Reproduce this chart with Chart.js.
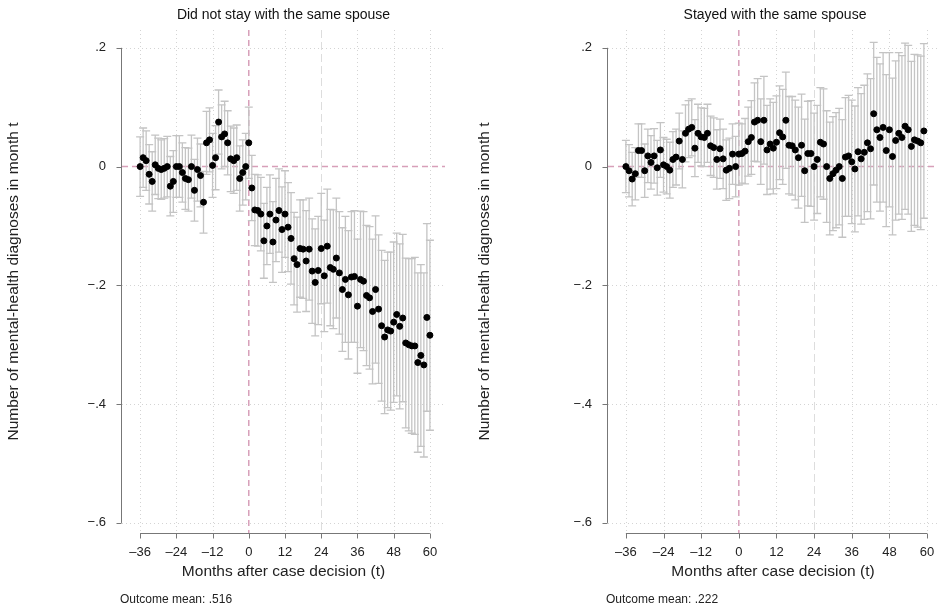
<!DOCTYPE html>
<html><head><meta charset="utf-8">
<script src="https://cdn.jsdelivr.net/npm/chart.js@4"></script>
<style>
body{margin:0;background:#fff;font-family:"Liberation Sans",Arial,sans-serif;}
.c{position:absolute;top:0;height:610px;}
.note{position:absolute;top:592px;font-size:12px;color:#222;}
.t{position:absolute;top:6px;font-size:14px;color:#111;text-align:center;}
</style></head><body>
<div class="c" style="left:0;width:471px"><canvas id="a"></canvas></div>
<div class="c" style="left:471px;width:471px"><canvas id="b"></canvas></div>
<div class="t" style="left:122px;width:323px">Did not stay with the same spouse</div>
<div class="t" style="left:608px;width:334px">Stayed with the same spouse</div>
<div class="note" style="left:120px">Outcome mean: .516</div>
<div class="note" style="left:606px">Outcome mean: .222</div>
<script>
const months=[];for(let m=-36;m<=60;m++)months.push(m);
const xTicks=[-36,-24,-12,0,12,24,36,48,60];
const yTicks=[0.2,0,-0.2,-0.4,-0.6];
const leftEst=[0,0.015,0.01,-0.013,-0.025,0.003,-0.003,-0.005,-0.003,0,-0.033,-0.025,0,0,-0.01,-0.02,-0.022,0,-0.04,-0.005,-0.015,-0.06,0.04,0.045,0.002,0.015,0.075,0.05,0.055,0.04,0.013,0.01,0.015,-0.02,-0.01,0,0.04,
-0.036,-0.073,-0.074,-0.08,-0.125,-0.1,-0.08,-0.127,-0.09,-0.074,-0.106,-0.08,-0.102,-0.121,-0.155,-0.165,-0.138,-0.139,-0.159,-0.139,-0.176,-0.195,-0.175,-0.138,-0.184,-0.134,-0.17,-0.173,-0.154,-0.179,-0.207,-0.19,-0.216,-0.186,-0.185,-0.235,-0.19,-0.193,-0.217,-0.221,-0.244,-0.207,-0.24,-0.268,-0.287,-0.275,-0.277,-0.262,-0.249,-0.269,-0.255,-0.297,-0.3,-0.302,-0.302,-0.33,-0.318,-0.334,-0.254,-0.284];
const leftCI=[0.05,0.05,0.05,0.05,0.05,0.05,0.051,0.05,0.05,0.051,0.05,0.052,0.052,0.052,0.05,0.052,0.053,0.053,0.052,0.053,0.053,0.052,0.053,0.054,0.054,0.054,0.054,0.054,0.055,0.054,0.055,0.055,0.055,0.055,0.055,0.056,0.06,
0.055,0.06,0.06,0.062,0.063,0.065,0.066,0.068,0.07,0.07,0.072,0.073,0.075,0.077,0.078,0.08,0.082,0.083,0.085,0.086,0.088,0.09,0.091,0.093,0.094,0.096,0.098,0.1,0.101,0.103,0.104,0.106,0.108,0.11,0.111,0.113,0.115,0.117,0.118,0.12,0.122,0.124,0.125,0.127,0.129,0.131,0.133,0.135,0.137,0.139,0.141,0.143,0.145,0.147,0.149,0.151,0.153,0.155,0.158,0.16,0.166];
const rightEst=[0,-0.007,-0.021,-0.012,0.027,0.027,-0.007,0.018,0.007,0.018,-0.002,0.028,0.003,0,-0.006,0.012,0.016,0.043,0.012,0.056,0.063,0.066,0.031,0.056,0.05,0.049,0.056,0.035,0.032,0.012,0.03,0.013,-0.006,-0.003,0.021,0,0.021,
0.022,0.026,0.042,0.049,0.075,0.078,0.042,0.078,0.028,0.038,0.031,0.041,0.057,0.05,0.078,0.036,0.035,0.028,0.015,0.036,-0.007,0.022,0.022,0,0.012,0.041,0.038,0,-0.02,-0.012,-0.006,0,-0.02,0.016,0.018,0.008,-0.004,0.025,0.013,0.024,0.04,0.03,0.089,0.062,0.049,0.066,0.027,0.062,0.017,0.044,0.056,0.049,0.068,0.062,0.034,0.045,0.043,0.04,0.06];
const rightCI=[0.044,0.044,0.045,0.044,0.045,0.045,0.045,0.045,0.045,0.046,0.046,0.046,0.046,0.046,0.047,0.047,0.047,0.047,0.048,0.048,0.048,0.048,0.048,0.049,0.049,0.049,0.049,0.05,0.05,0.05,0.05,0.05,0.051,0.051,0.051,0.051,0.052,
0.05,0.055,0.058,0.062,0.066,0.07,0.072,0.074,0.075,0.076,0.077,0.078,0.079,0.08,0.081,0.082,0.083,0.084,0.085,0.086,0.087,0.088,0.089,0.09,0.091,0.092,0.093,0.094,0.095,0.096,0.097,0.098,0.099,0.1,0.102,0.104,0.106,0.108,0.11,0.113,0.116,0.118,0.12,0.122,0.124,0.126,0.128,0.13,0.132,0.134,0.136,0.138,0.14,0.142,0.143,0.144,0.145,0.146,0.147,0.148];

function fmtY(v){if(Math.abs(v)<1e-9)return '0';let s=Math.abs(v).toFixed(1).replace(/^0/,'');return (v<0?'\u2212':'')+s;}
function fmtX(v){return v<0?'\u2013'+Math.abs(v):String(v);}

const deco={id:'deco',
 beforeDatasetsDraw(ch){
  const c=ch.ctx,x=ch.scales.x,y=ch.scales.y,a=ch.chartArea;
  c.save();c.lineWidth=1;
  c.strokeStyle='#d4d4d4';c.setLineDash([1,3]);
  yTicks.forEach(v=>{if(v===0)return;const p=Math.round(y.getPixelForValue(v))+0.5;c.beginPath();c.moveTo(a.left,p);c.lineTo(a.right,p);c.stroke();});
  xTicks.forEach(v=>{if(v===0||v===24)return;const p=Math.round(x.getPixelForValue(v))+0.5;c.beginPath();c.moveTo(p,a.top);c.lineTo(p,a.bottom);c.stroke();});
  c.strokeStyle='#dddddd';c.setLineDash([8,4]);
  let p=Math.round(x.getPixelForValue(24))+0.5;c.beginPath();c.moveTo(p,a.top);c.lineTo(p,a.bottom);c.stroke();
  c.strokeStyle='#d79fb9';c.lineWidth=1.5;c.setLineDash([6,4]);
  p=x.getPixelForValue(0);c.beginPath();c.moveTo(p,a.top);c.lineTo(p,a.bottom);c.stroke();
  p=y.getPixelForValue(0);c.beginPath();c.moveTo(a.left,p);c.lineTo(a.right,p);c.stroke();
  const ds=ch.data.datasets[0];c.setLineDash([]);c.strokeStyle='#c4c4c4';c.lineWidth=1.3;
  ds.data.forEach(d=>{const px=x.getPixelForValue(d.x),lo=y.getPixelForValue(d.y-d.ci),hi=y.getPixelForValue(d.y+d.ci);
   c.beginPath();c.moveTo(px,lo);c.lineTo(px,hi);c.moveTo(px-4,lo);c.lineTo(px+4,lo);c.moveTo(px-4,hi);c.lineTo(px+4,hi);c.stroke();});
  c.strokeStyle='#777';c.lineWidth=1;
  const yl=Math.round(a.left)-0.5,xb=Math.round(a.bottom)+0.5;
  c.beginPath();c.moveTo(yl,y.getPixelForValue(0.2));c.lineTo(yl,y.getPixelForValue(-0.6));
  yTicks.forEach(v=>{const q=Math.round(y.getPixelForValue(v))+0.5;c.moveTo(yl,q);c.lineTo(yl-5,q);});
  c.moveTo(x.getPixelForValue(-36),xb);c.lineTo(x.getPixelForValue(60),xb);
  xTicks.forEach(v=>{const q=Math.round(x.getPixelForValue(v))+0.5;c.moveTo(q,xb);c.lineTo(q,xb+5);});
  c.stroke();c.restore();
 }};

function make(id,est,ci,xmin,xmax,yw){
 new Chart(document.getElementById(id),{type:'scatter',
  data:{datasets:[{data:months.map((m,i)=>({x:m,y:est[i],ci:ci[i]})),backgroundColor:'#000',borderColor:'#000',pointRadius:3,pointHoverRadius:3}]},
  options:{responsive:true,maintainAspectRatio:false,animation:false,events:[],
   layout:{padding:{top:30,right:id==='a'?26:0,bottom:25,left:0}},
   plugins:{legend:{display:false},tooltip:{enabled:false}},
   scales:{
    x:{type:'linear',min:xmin,max:xmax,grid:{display:false},border:{display:false},
     afterBuildTicks(s){s.ticks=xTicks.map(v=>({value:v}));},afterFit(s){s.height=52;},
     ticks:{callback:fmtX,color:'#222',font:{size:13,family:'Liberation Sans'},padding:4,maxRotation:0},
     title:{display:true,text:'Months after case decision (t)',color:'#222',font:{size:15.5,family:'Liberation Sans'},padding:{top:3}}},
    y:{min:-0.617,max:0.23,grid:{display:false},border:{display:false},
     afterBuildTicks(s){s.ticks=yTicks.map(v=>({value:v}));},afterFit(s){s.width=yw;},
     ticks:{callback:fmtY,color:'#222',font:{size:13,family:'Liberation Sans'},padding:8},
     title:{display:true,text:'Number of mental-health diagnoses in month t',color:'#222',font:{size:15.5,family:'Liberation Sans'},padding:{bottom:48}}}
   }},plugins:[deco]});
}
make('a',leftEst,leftCI,-42,65,122);
make('b',rightEst,rightCI,-41.7,63.5,137);
</script></body></html>
